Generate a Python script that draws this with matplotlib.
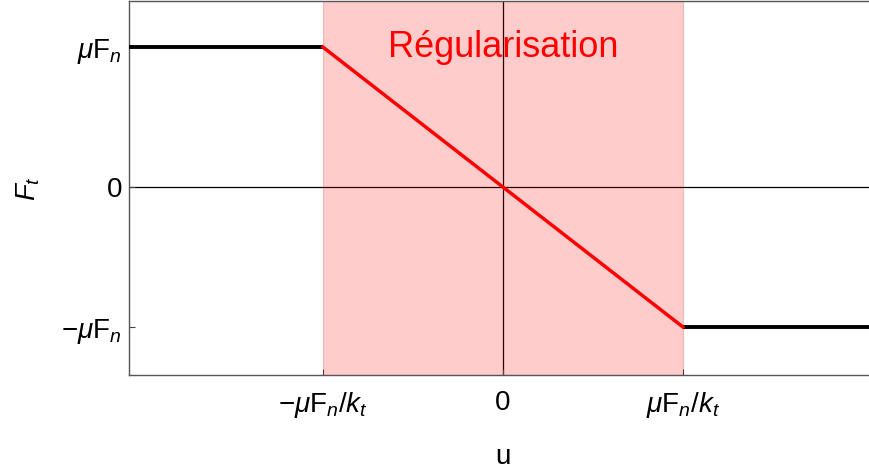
import numpy as np
import matplotlib
matplotlib.use("Agg")
import matplotlib.pyplot as plt

# Style: Arial-like font for text and math
plt.rcParams['font.family'] = ['Liberation Sans', 'DejaVu Sans']
plt.rcParams['mathtext.fontset'] = 'custom'
plt.rcParams['mathtext.rm'] = 'Liberation Sans'
plt.rcParams['mathtext.it'] = 'Liberation Sans:italic'
plt.rcParams['mathtext.bf'] = 'Liberation Sans:bold'

# Data (in units of mu*Fn and mu*Fn/kt)
u_left = [-2.1, -1.0]
f_left = [1.0, 1.0]
u_reg = [-1.0, 0.0, 1.0]
f_reg = [1.0, 0.0, -1.0]
u_right = [1.0, 2.2]
f_right = [-1.0, -1.0]

xtick_pos = [-1, 0, 1]
xtick_labels = [r'$-\mu\mathrm{F}_n/k_t$', '0', r'$\mu\mathrm{F}_n/k_t$']
ytick_pos = [-1, 0, 1]
ytick_labels = [r'$-\mu\mathrm{F}_n$', '0', r'$\mu\mathrm{F}_n$']

fig = plt.figure(figsize=(8.7, 4.69), dpi=100)
ax = fig.add_axes([129 / 870, 94 / 469, 760 / 870, 374 / 469])

ax.axhline(0, color='black', lw=0.9, zorder=1)
ax.axvline(0, color='black', lw=0.9, zorder=1)
ax.axvspan(-1, 1, facecolor='#ff0000', alpha=0.2, edgecolor='#b00000', lw=0.8, zorder=2)

ax.plot(u_left, f_left, color='black', lw=2.8, zorder=3, solid_capstyle='butt')
ax.plot(u_right, f_right, color='black', lw=2.8, zorder=3, solid_capstyle='butt')
ax.plot(u_reg, f_reg, color='#ff0000', lw=2.5, zorder=4)

ax.text(0, 1.0, 'Régularisation', color='#ff0000', fontsize=26,
        ha='center', va='center', zorder=5)

ax.set_xlim(-2.078, 2.145)
ax.set_ylim(-1.343, 1.33)

ax.set_xticks(xtick_pos)
ax.set_xticklabels(xtick_labels)
ax.set_yticks(ytick_pos)
ax.set_yticklabels(ytick_labels)
ax.tick_params(direction='in', length=4, width=0.8, labelsize=20, colors='#444444',
               labelcolor='black')
ax.tick_params(axis='x', pad=11)
ax.tick_params(axis='y', pad=5)

for s in ax.spines.values():
    s.set_color('#555555')
    s.set_linewidth(1.0)
ax.spines['right'].set_visible(False)

ax.set_xlabel('u', fontsize=20, labelpad=16)
ax.xaxis.set_label_coords((503 - 129) / 760, -0.185)
ax.set_ylabel(r'$F_t$', fontsize=20, labelpad=14)

fig.savefig('out.png', dpi=100)
